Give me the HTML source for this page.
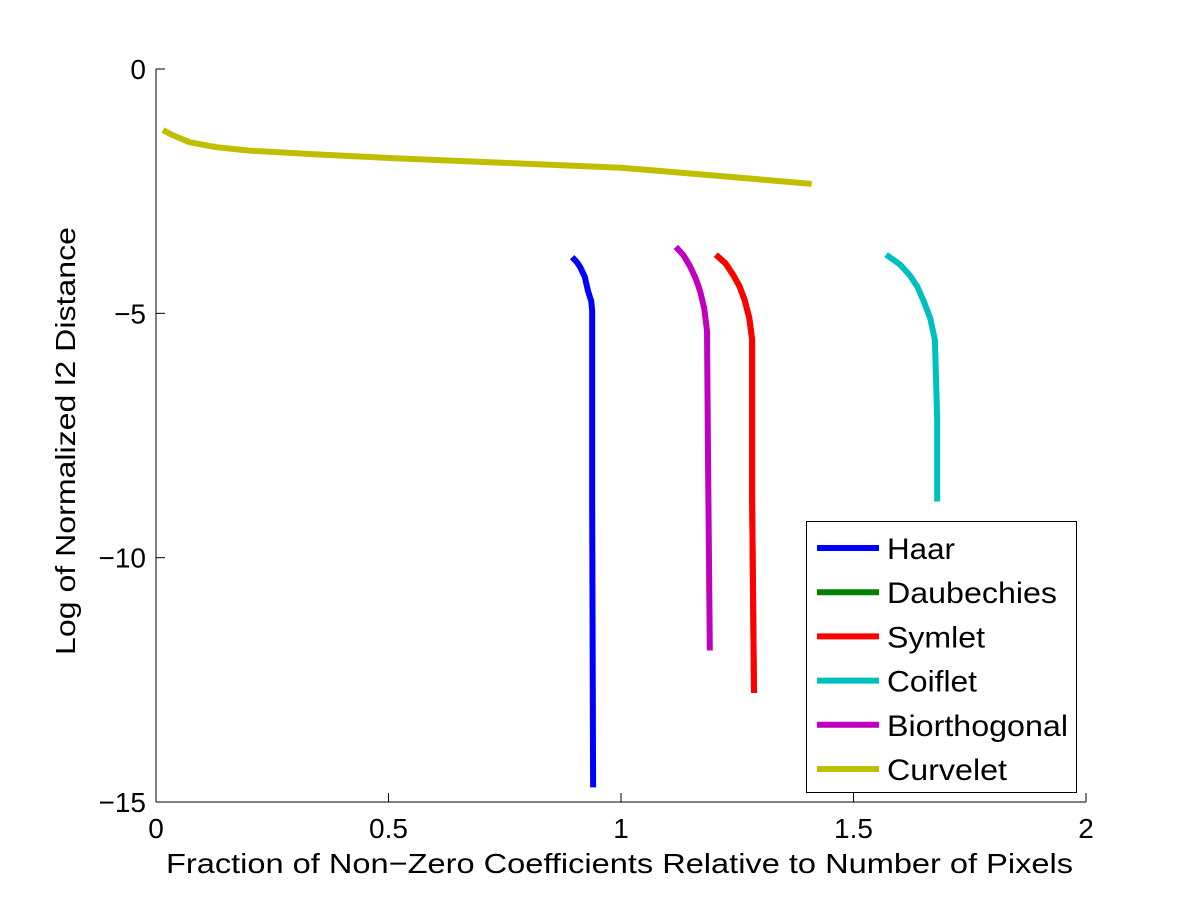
<!DOCTYPE html>
<html><head><meta charset="utf-8"><style>
body{margin:0;background:#fff}
svg text{font-family:"Liberation Sans",sans-serif;fill:#000}
</style></head><body>
<svg id="chart" width="1200" height="901" xmlns="http://www.w3.org/2000/svg"></svg>
<script>
const xTicks=[0,0.5,1,1.5,2];
const xTickLabels=["0","0.5","1","1.5","2"];
const yTicks=[0,-5,-10,-15];
const yTickLabels=["0","\u22125","\u221210","\u221215"];
const seriesNames=["Haar","Daubechies","Symlet","Coiflet","Biorthogonal","Curvelet"];
const seriesColors=["#0000ff","#007f00","#ff0000","#00bfbf","#bf00bf","#bfbf00"];
const haarX=[0.895,0.905,0.912,0.922,0.929,0.936,0.938,0.938,0.94];
const haarY=[-3.85,-3.95,-4.05,-4.25,-4.54,-4.75,-4.95,-8.84,-14.7];
const daubX=[1.204,1.225,1.241,1.255,1.266,1.276,1.282,1.282,1.286];
const daubY=[-3.8,-3.98,-4.21,-4.45,-4.73,-5.1,-5.54,-8.8,-12.77];
const symX=[1.204,1.225,1.241,1.255,1.266,1.276,1.282,1.282,1.286];
const symY=[-3.8,-3.98,-4.21,-4.45,-4.73,-5.1,-5.54,-8.8,-12.77];
const coifX=[1.57,1.6,1.62,1.637,1.65,1.665,1.675,1.68,1.68];
const coifY=[-3.8,-4.0,-4.21,-4.45,-4.73,-5.1,-5.54,-7.18,-8.85];
const bioX=[1.118,1.135,1.148,1.16,1.17,1.179,1.185,1.187,1.191];
const bioY=[-3.64,-3.82,-4.03,-4.27,-4.54,-4.9,-5.36,-7.8,-11.9];
const curvX=[0.015,0.035,0.073,0.13,0.2,0.35,0.52,0.75,1.0,1.2,1.41];
const curvY=[-1.25,-1.35,-1.5,-1.6,-1.67,-1.75,-1.83,-1.92,-2.02,-2.18,-2.35];
const seriesX=[haarX,daubX,symX,coifX,bioX,curvX];
const seriesY=[haarY,daubY,symY,coifY,bioY,curvY];

const NS="http://www.w3.org/2000/svg";
const svg=document.getElementById('chart');
const L=156,R=1086,T=69,B=802;
const sx=v=>L+(v-0)/(2-0)*(R-L);
const sy=v=>T+(0-v)/(0+15)*(B-T);
function mk(tag,attrs,parent){const e=document.createElementNS(NS,tag);for(const k in attrs)e.setAttribute(k,attrs[k]);(parent||svg).appendChild(e);return e;}

let ax=mk('line',{x1:L,y1:T,x2:L,y2:B,stroke:'#000','stroke-width':1});


ax=mk('line',{x1:L,y1:B,x2:R,y2:B,stroke:'#000','stroke-width':1});



xTicks.forEach((v,i)=>{
  const t=mk('line',{x1:sx(v),y1:B,x2:sx(v),y2:B-9,stroke:'#000'});
  
  
  const l=mk('text',{x:sx(v),y:B+36,'text-anchor':'middle','font-size':28});
  l.textContent=xTickLabels[i];
  
  
});
yTicks.forEach((v,i)=>{
  const t=mk('line',{x1:L,y1:sy(v),x2:L+9,y2:sy(v),stroke:'#000'});
  
  
  const l=mk('text',{x:L-10,y:sy(v)+10,'text-anchor':'end','font-size':28});
  l.textContent=yTickLabels[i];
  
  
});
let xt=mk('text',{x:166,y:873,'font-size':28,textLength:907,lengthAdjust:'spacingAndGlyphs'});
xt.textContent="Fraction of Non\u2212Zero Coefficients Relative to Number of Pixels";


let yt=mk('text',{x:0,y:0,'font-size':28,textLength:428,lengthAdjust:'spacingAndGlyphs',transform:'translate(75,655) rotate(-90)'});
yt.textContent="Log of Normalized l2 Distance";



seriesX.forEach((xs,i)=>{
  const pts=xs.map((x,j)=>sx(x)+','+sy(seriesY[i][j])).join(' ');
  const p=mk('polyline',{points:pts,fill:'none',stroke:seriesColors[i],'stroke-width':6,'stroke-linejoin':'round'});
  
  
});

const lg=mk('g',{});


mk('rect',{x:806.5,y:521.5,width:270,height:271,fill:'#fff',stroke:'#000'},lg);
const legendLens=[68,170,98,90,181,120];
seriesNames.forEach((n,i)=>{
  const y=548+i*44.2;
  const ln=mk('line',{x1:817,y1:y,x2:879,y2:y,stroke:seriesColors[i],'stroke-width':6},lg);
  
  
  const t=mk('text',{x:887,y:y+11,'font-size':30,textLength:legendLens[i],lengthAdjust:'spacingAndGlyphs'},lg);
  t.textContent=n;
  
  
});
</script>
</body></html>
